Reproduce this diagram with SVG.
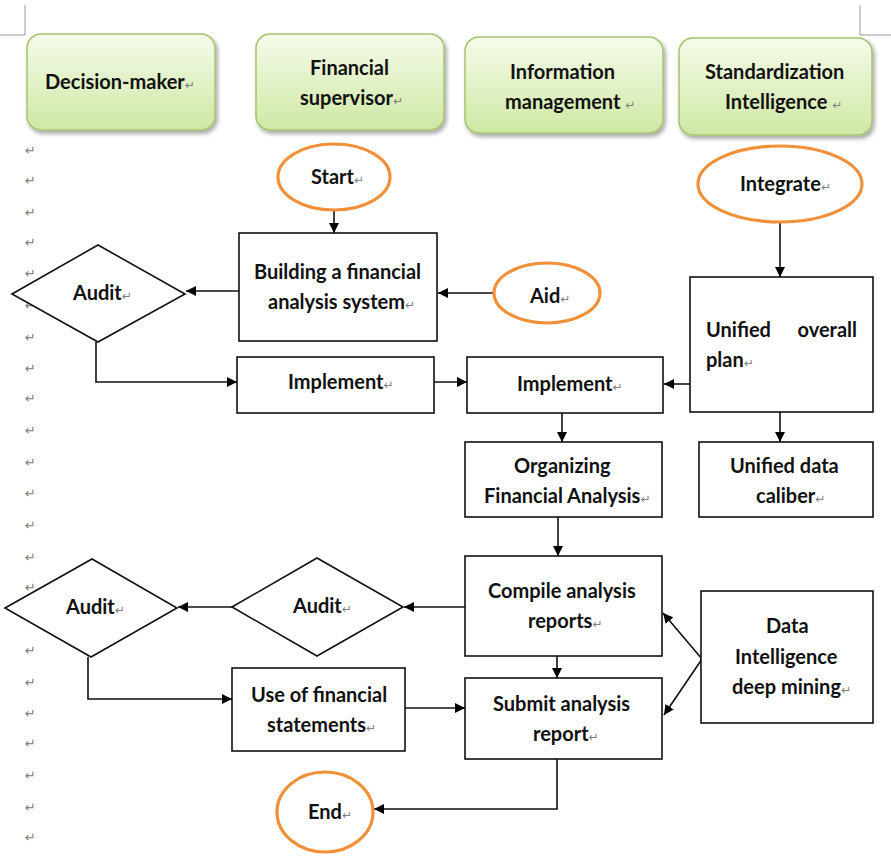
<svg xmlns="http://www.w3.org/2000/svg" width="891" height="857" viewBox="0 0 891 857">
<defs>
<linearGradient id="hg" x1="0" y1="0" x2="0" y2="1">
<stop offset="0" stop-color="#f5fbea"/>
<stop offset="1" stop-color="#cfe8a4"/>
</linearGradient>
<filter id="sh" x="-10%" y="-10%" width="130%" height="135%">
<feDropShadow dx="2" dy="3" stdDeviation="2" flood-color="#000" flood-opacity="0.35"/>
</filter>
<marker id="ar" viewBox="0 0 10 10" refX="10" refY="5" markerWidth="10" markerHeight="10" markerUnits="userSpaceOnUse" orient="auto">
<path d="M0,0 L10,5 L0,10 z" fill="#000"/>
</marker>
<style>
.hd{fill:url(#hg);stroke:#a5c36e;stroke-width:1.5;filter:url(#sh)}
.bx{fill:#fff;stroke:#111;stroke-width:1.6}
.ov{fill:#fff;stroke:#f0913a;stroke-width:3.2}
.t{font-family:Lato,"Liberation Sans",sans-serif;font-weight:bold;font-size:20px;fill:#111}
.m{font-family:"DejaVu Sans",sans-serif;font-weight:normal;font-size:12px;fill:#808080}
.lm{font-family:"DejaVu Sans",sans-serif;font-size:13px;fill:#7a7a7a}
.cn{fill:none;stroke:#111;stroke-width:1.6;marker-end:url(#ar)}
.cm{fill:none;stroke:#9a9a9a;stroke-width:1}
</style>
</defs>
<rect width="891" height="857" fill="#fff"/>
<g id="corners">
<path class="cm" d="M25,5 V35 H0"/>
<path class="cm" d="M860,5 V35 H891"/>
</g>
<g id="margin-marks" class="lm">
<text x="25" y="155">↵</text><text x="25" y="185">↵</text><text x="25" y="217">↵</text><text x="25" y="247">↵</text><text x="25" y="278">↵</text><text x="25" y="310">↵</text><text x="25" y="342">↵</text><text x="25" y="373">↵</text><text x="25" y="403">↵</text><text x="25" y="435">↵</text><text x="25" y="467">↵</text><text x="25" y="498">↵</text><text x="25" y="530">↵</text><text x="25" y="562">↵</text><text x="25" y="592">↵</text><text x="25" y="622">↵</text><text x="25" y="655">↵</text><text x="25" y="687">↵</text><text x="25" y="718">↵</text><text x="25" y="748">↵</text><text x="25" y="780">↵</text><text x="25" y="812">↵</text><text x="25" y="842">↵</text>
</g>
<g id="h-decision">
<rect class="hd" x="27" y="34" width="188" height="96" rx="14"/>
<text class="t" x="45" y="89">Decision-maker<tspan class="m">↵</tspan></text>
</g>
<g id="h-financial">
<rect class="hd" x="256" y="34" width="188" height="96" rx="14"/>
<text class="t" x="310" y="75">Financial</text>
<text class="t" x="300" y="105">supervisor<tspan class="m">↵</tspan></text>
</g>
<g id="h-information">
<rect class="hd" x="465" y="37" width="198" height="96" rx="14"/>
<text class="t" x="510" y="79">Information</text>
<text class="t" x="505" y="109">management <tspan class="m">↵</tspan></text>
</g>
<g id="h-standard">
<rect class="hd" x="679" y="38" width="193" height="97" rx="14"/>
<text class="t" x="705" y="79">Standardization</text>
<text class="t" x="725" y="109">Intelligence <tspan class="m">↵</tspan></text>
</g>
<g id="connectors">
<path class="cn" d="M334,211 V233"/>
<path class="cn" d="M239,291 H186"/>
<path class="cn" d="M493,293 H438"/>
<path class="cn" d="M96,342 V382 H237"/>
<path class="cn" d="M432,382 H467"/>
<path class="cn" d="M690,384 H664"/>
<path class="cn" d="M780,222 V277"/>
<path class="cn" d="M562,413 V442"/>
<path class="cn" d="M780,412 V442"/>
<path class="cn" d="M558,517 V556"/>
<path class="cn" d="M465,607 H404"/>
<path class="cn" d="M232,607 H178"/>
<path class="cn" d="M88,657 V699 H232"/>
<path class="cn" d="M405,708 H465"/>
<path class="cn" d="M557,656 V678"/>
<path class="cn" d="M702,659 L663,613"/>
<path class="cn" d="M702,659 L664,715"/>
<path class="cn" d="M557,759 V809 H374"/>
</g>
<g id="start">
<ellipse class="ov" cx="334" cy="177" rx="56" ry="33"/>
<text class="t" x="311" y="184">Start<tspan class="m">↵</tspan></text>
</g>
<g id="integrate">
<ellipse class="ov" cx="780" cy="184" rx="82" ry="38"/>
<text class="t" x="740" y="191">Integrate<tspan class="m">↵</tspan></text>
</g>
<g id="aid">
<ellipse class="ov" cx="547" cy="293" rx="53" ry="30"/>
<text class="t" x="530" y="303">Aid<tspan class="m">↵</tspan></text>
</g>
<g id="end">
<ellipse class="ov" cx="325" cy="812" rx="48" ry="40"/>
<text class="t" x="308" y="819">End<tspan class="m">↵</tspan></text>
</g>
<g id="building">
<rect class="bx" x="239" y="233" width="198" height="108"/>
<text class="t" x="254" y="279">Building a financial</text>
<text class="t" x="268" y="309">analysis system<tspan class="m">↵</tspan></text>
</g>
<g id="audit1">
<polygon class="bx" points="12,294 98,245 185,294 98,342"/>
<text class="t" x="73" y="300">Audit<tspan class="m">↵</tspan></text>
</g>
<g id="implement1">
<rect class="bx" x="237" y="357" width="197" height="56"/>
<text class="t" x="288" y="389">Implement<tspan class="m">↵</tspan></text>
</g>
<g id="implement2">
<rect class="bx" x="467" y="357" width="196" height="56"/>
<text class="t" x="517" y="391">Implement<tspan class="m">↵</tspan></text>
</g>
<g id="unified-plan">
<rect class="bx" x="690" y="277" width="183" height="135"/>
<text class="t" x="706" y="337">Unified</text>
<text class="t" x="857" y="337" text-anchor="end">overall</text>
<text class="t" x="706" y="367">plan<tspan class="m">↵</tspan></text>
</g>
<g id="organizing">
<rect class="bx" x="465" y="442" width="197" height="75"/>
<text class="t" x="514" y="473">Organizing</text>
<text class="t" x="484" y="503">Financial Analysis<tspan class="m">↵</tspan></text>
</g>
<g id="unified-data">
<rect class="bx" x="699" y="442" width="174" height="75"/>
<text class="t" x="730" y="473">Unified data</text>
<text class="t" x="756" y="503">caliber<tspan class="m">↵</tspan></text>
</g>
<g id="compile">
<rect class="bx" x="465" y="556" width="197" height="100"/>
<text class="t" x="488" y="598">Compile analysis</text>
<text class="t" x="528" y="628">reports<tspan class="m">↵</tspan></text>
</g>
<g id="submit">
<rect class="bx" x="465" y="678" width="197" height="81"/>
<text class="t" x="493" y="711">Submit analysis</text>
<text class="t" x="533" y="741">report<tspan class="m">↵</tspan></text>
</g>
<g id="mining">
<rect class="bx" x="701" y="591" width="172" height="132"/>
<text class="t" x="766" y="633">Data</text>
<text class="t" x="735" y="664">Intelligence</text>
<text class="t" x="732" y="694">deep mining<tspan class="m">↵</tspan></text>
</g>
<g id="audit2">
<polygon class="bx" points="232,607 317,558 403,607 317,656"/>
<text class="t" x="293" y="613">Audit<tspan class="m">↵</tspan></text>
</g>
<g id="audit3">
<polygon class="bx" points="5,608 92,559 177,608 91,657"/>
<text class="t" x="66" y="614">Audit<tspan class="m">↵</tspan></text>
</g>
<g id="use">
<rect class="bx" x="232" y="668" width="173" height="83"/>
<text class="t" x="251" y="702">Use of financial</text>
<text class="t" x="267" y="732">statements<tspan class="m">↵</tspan></text>
</g>
</svg>
